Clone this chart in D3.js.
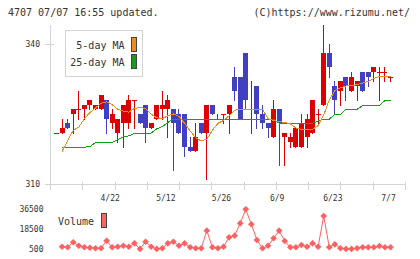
<!DOCTYPE html>
<html>
<head>
<meta charset="utf-8">
<script src="https://cdn.jsdelivr.net/npm/d3@7"></script>
<style>
body { margin: 0; background: #fff; }
svg { display: block; }
text { font-family: "DejaVu Sans Mono", monospace; fill: #333; }
</style>
</head>
<body>
<div id="chart"></div>
<script>
"use strict";

// daily candles, oldest first
var opens  = [321,321,323,325,326,326,327,326,326,328, 323,321,323,323,328,325,327,322,324,326,
              326,326,325,325,318,317,323,321,327,324, 325,325,333,333,338,324,331,325,323,320,
              326,320,319,318,318,320,321,325,327,338, 331,330,333,330,331,334,334,334,334,334, 333];
var highs  = [321,324,324,326,330,327,328,327,329,328, 326,324,327,329,328,325,327,323,327,330,
              329,326,326,325,320,323,323,327,327,325, 325,327,335,333,338,332,331,327,323,328,
              326,321,321,322,325,325,328,326,344,340, 332,332,333,334,332,334,334,335,335,335, 333];
var lows   = [321,321,322,321,324,324,326,326,326,321, 322,319,318,322,322,323,319,322,324,324,
              320,313,321,316,317,317,321,311,325,324, 323,321,328,324,326,321,322,322,320,320,
              314,314,318,318,318,318,321,323,327,333, 325,327,328,330,328,330,331,332,328,332, 332];
var closes = [321,322,322,326,326,327,328,327,329,324, 325,324,327,328,328,323,322,323,327,327,
              328,323,321,318,317,320,321,327,325,324, 325,327,330,324,328,324,325,323,322,326,
              323,321,320,322,323,324,328,325,338,335, 328,332,331,333,332,330,333,335,334,334, 333];

// moving averages and volume start at the 2nd candle
var ma5 = [317.0,319.3,321.5,322.2,324.0,325.3,326.3,327.3,327.6,327.0,
           326.0,325.6,325.4,326.2,326.4,326.2,325.0,324.2,324.0,324.6,
           325.0,324.5,323.0,321.4,319.9,319.2,319.6,321.5,323.0,323.6,
           324.6,325.8,326.0,326.0,326.0,326.0,326.0,324.0,323.6,323.4,
           323.2,322.9,322.0,321.7,321.6,321.7,322.5,324.8,328.0,330.0,
           330.6,331.0,331.1,331.3,331.6,332.0,332.6,333.0,333.0,333.0];
var ma25 = [317.9,317.9,317.9,317.9,317.9,318.0,318.9,318.9,318.9,318.9,
            319.5,320.1,320.3,320.9,320.9,320.9,320.9,321.8,322.3,323.2,
            323.9,323.9,323.9,323.9,323.9,323.9,323.9,323.9,323.9,323.9,
            323.9,323.9,323.9,323.9,323.9,323.9,323.9,323.9,323.9,323.0,
            323.0,323.0,323.0,323.0,323.0,323.0,323.5,323.9,323.9,324.9,
            324.9,326.0,326.0,326.0,326.8,326.8,326.8,326.8,327.9,327.9];
var volumes = [2300,1800,6400,3200,1800,1400,900,900,7800,1800,
               2300,3200,2300,5400,300,6900,2300,300,900,5400,
               6900,3200,5400,1800,900,900,17000,1800,900,2300,
               10900,12400,23700,36500,22800,8500,900,3200,10000,17000,
               7500,1800,1800,3900,2300,5400,2300,30400,1800,4500,
               900,300,300,900,1800,1800,1800,3000,1800,1800];

var dateLabels = ["4/22", "5/12", "5/26", "6/9", "6/23", "7/7"];
var dateIndex  = [10, 20, 30, 40, 50, 60];
var priceTicks = [340, 310];
var volTicks   = [36500, 18500, 500];

var W = 420, H = 259;
var RED = "#dc0000", BLUE = "#4040c0", ORANGE = "#f08c1e", GREEN = "#14a014", VOL = "#ff6060", GRID = "#d4d4d4";

var svg = d3.select("#chart").append("svg")
    .attr("width", W).attr("height", H);

var x = d3.scaleLinear().domain([0, opens.length - 1]).range([56.5, 390.5]);
var y = d3.scaleLinear().domain([310, 340]).range([184, 44]);
var yv = d3.scaleLinear().domain([500, 36500]).range([248.7, 209.3]);
var grid = d3.scaleLinear().domain([0, 11]).range([50, 405]);

// header texts
svg.append("text").attr("x", 8).attr("y", 16).style("font-size", "10px")
    .text("4707 07/07 16:55 updated.");
svg.append("text").attr("x", 410).attr("y", 16).attr("text-anchor", "end").style("font-size", "10px")
    .text("(C)https://www.rizumu.net/");

// axes frame
var ax = svg.append("g").attr("stroke", GRID).attr("shape-rendering", "crispEdges");
ax.append("line").attr("x1", 50.5).attr("x2", 50.5).attr("y1", 25).attr("y2", 190);
ax.append("line").attr("x1", 45).attr("x2", 406).attr("y1", 184.5).attr("y2", 184.5);
ax.selectAll(".gt").data(d3.range(1, 12)).enter().append("line")
    .attr("x1", d => Math.round(grid(d)) + 0.5).attr("x2", d => Math.round(grid(d)) + 0.5)
    .attr("y1", 182).attr("y2", 190);
ax.selectAll(".pt").data(priceTicks).enter().append("line")
    .attr("x1", 45).attr("x2", 54)
    .attr("y1", d => Math.round(y(d)) + 0.5).attr("y2", d => Math.round(y(d)) + 0.5);

svg.selectAll(".pl").data(priceTicks).enter().append("text")
    .attr("x", 40).attr("y", d => y(d) + 3).attr("text-anchor", "end")
    .style("font-size", "8px").text(d => d);

svg.selectAll(".dl").data(dateLabels).enter().append("text")
    .attr("x", (d, i) => x(dateIndex[i]) - 2).attr("y", 201).attr("text-anchor", "middle")
    .style("font-size", "8px").text(d => d);

// candles
var candles = svg.append("g").attr("shape-rendering", "crispEdges")
    .selectAll("g").data(opens).enter().append("g")
    .attr("fill", (d, i) => closes[i] >= opens[i] ? RED : BLUE)
    .attr("stroke", (d, i) => closes[i] >= opens[i] ? RED : BLUE);

candles.append("line")
    .attr("x1", (d, i) => Math.round(x(i) - 2.5) + 2.5)
    .attr("x2", (d, i) => Math.round(x(i) - 2.5) + 2.5)
    .attr("y1", (d, i) => Math.round(y(highs[i])))
    .attr("y2", (d, i) => Math.round(y(lows[i])) + 1);

candles.append("rect")
    .attr("stroke", "none")
    .attr("x", (d, i) => Math.round(x(i) - 2.5))
    .attr("width", 5)
    .attr("y", (d, i) => Math.round(y(Math.max(opens[i], closes[i]))))
    .attr("height", (d, i) => Math.max(1, Math.round(y(Math.min(opens[i], closes[i]))) - Math.round(y(Math.max(opens[i], closes[i])))));

// moving averages
var maLine = d3.line().x((d, i) => x(i + 1)).y(d => y(d));
svg.append("path").datum(ma25).attr("d", maLine)
    .attr("fill", "none").attr("stroke", GREEN).attr("stroke-width", 1).attr("shape-rendering", "crispEdges");
svg.append("path").datum(ma5).attr("d", maLine)
    .attr("fill", "none").attr("stroke", ORANGE).attr("stroke-width", 1).attr("shape-rendering", "crispEdges");

// legend
var lg = svg.append("g");
lg.append("rect").attr("x", 65.5).attr("y", 30.5).attr("width", 77).attr("height", 46)
    .attr("fill", "#fff").attr("stroke", GRID);
lg.append("text").attr("x", 124.5).attr("y", 49).attr("text-anchor", "end").style("font-size", "10px").text("5-day MA");
lg.append("text").attr("x", 124.5).attr("y", 65.5).attr("text-anchor", "end").style("font-size", "10px").text("25-day MA");
lg.append("rect").attr("x", 131.5).attr("y", 37.5).attr("width", 5).attr("height", 14)
    .attr("fill", ORANGE).attr("stroke", "#444");
lg.append("rect").attr("x", 131.5).attr("y", 54.5).attr("width", 5).attr("height", 14)
    .attr("fill", GREEN).attr("stroke", "#444");

// volume
svg.selectAll(".vl").data(volTicks).enter().append("text")
    .attr("x", 43.5).attr("y", d => yv(d) + 3).attr("text-anchor", "end")
    .style("font-size", "8px").text(d => d);

svg.append("path").datum(volumes)
    .attr("d", d3.line().x((d, i) => x(i + 1)).y(d => yv(d)))
    .attr("fill", "none").attr("stroke", VOL).attr("stroke-width", 1);

svg.append("g").selectAll("path").data(volumes).enter().append("path")
    .attr("d", d3.symbol().type(d3.symbolSquare).size(22))
    .attr("transform", (d, i) => "translate(" + x(i + 1) + "," + yv(d) + ") rotate(45)")
    .attr("fill", VOL);

svg.append("text").attr("x", 58).attr("y", 225).style("font-size", "10px").text("Volume");
svg.append("rect").attr("x", 101.5).attr("y", 213.5).attr("width", 5).attr("height", 14)
    .attr("fill", "#ff6464").attr("stroke", "#444");
</script>
</body>
</html>
